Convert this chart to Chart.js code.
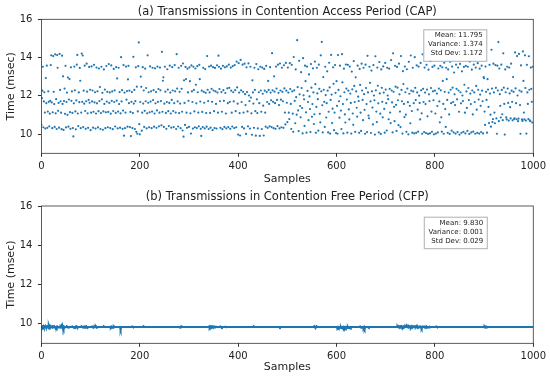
<!DOCTYPE html>
<html>
<head>
<meta charset="utf-8">
<script src="https://cdn.jsdelivr.net/npm/chart.js@4.4.0/dist/chart.umd.min.js"></script>
<style>
  body { margin: 0; background: #fff; }
  #wrap { position: relative; width: 550px; height: 379px; }
  canvas { position: absolute; left: 0; }
</style>
</head>
<body>
<div id="wrap">
  <canvas id="capChart" width="550" height="190" style="top:0px"></canvas>
  <canvas id="cfpChart" width="550" height="189" style="top:190px"></canvas>
</div>
<script>
// tick labels
var xTicks = [0, 200, 400, 600, 800, 1000];
var yTicks = [10, 12, 14, 16];

var capTitle = "(a) Transmissions in Contention Access Period (CAP)";
var cfpTitle = "(b) Transmissions in Contention Free Period (CFP)";
var capStats = ["Mean: 11.795", "Variance: 1.374", "Std Dev: 1.172"];
var cfpStats = ["Mean: 9.830", "Variance: 0.001", "Std Dev: 0.029"];

// (a) CAP transmission times, msec, samples 0..999
var cap = [
10.48,11.88,12.27,13.52,10.36,11.71,12.19,11.13,10.29,12.93,11.62,13.58,10.33,11.18,12.24,11.69,10.41,11.07,11.74,13.61,
14.12,11.66,10.31,11.14,14.08,12.21,11.57,10.38,14.17,11.09,11.83,10.27,14.13,13.47,11.22,11.63,10.34,14.19,12.31,11.72,
11.12,10.26,14.10,11.58,13.02,10.22,11.73,12.38,11.06,13.57,10.35,11.68,12.17,11.01,12.96,10.39,11.81,12.88,11.15,10.28,
13.49,11.74,12.23,11.11,10.32,9.88,11.61,13.53,12.29,11.19,10.25,11.76,13.63,14.14,11.08,10.42,12.18,11.67,13.46,12.79,
10.31,11.13,14.21,11.69,14.11,10.37,12.27,11.59,13.58,11.21,10.28,11.72,13.68,12.22,11.09,10.33,11.79,13.51,11.64,12.32,
10.21,11.12,13.54,11.71,12.28,10.34,11.17,13.62,11.66,12.19,10.29,11.08,13.48,11.61,12.24,10.35,11.20,13.43,11.73,12.46,
10.27,11.10,13.52,11.82,12.16,10.23,11.19,13.38,11.58,12.33,10.31,11.14,13.56,11.70,12.21,10.36,11.16,13.66,11.63,12.18,
10.32,11.07,13.59,11.74,12.23,10.26,11.21,13.41,11.68,12.29,10.40,11.11,13.50,11.75,12.91,10.30,11.18,13.47,11.57,12.20,
10.34,11.09,14.02,11.71,12.30,10.28,11.23,13.61,9.92,12.17,10.31,11.13,13.53,11.80,12.25,10.39,12.86,13.57,11.62,12.27,
10.37,11.16,9.90,11.69,12.20,10.32,11.10,14.04,11.60,12.31,10.27,11.73,13.49,10.12,12.48,10.02,11.19,13.55,14.79,10.52,
9.99,11.68,13.01,12.47,10.18,11.12,13.50,11.60,12.28,10.38,11.22,13.42,11.72,12.41,10.30,11.09,14.12,11.64,12.19,10.36,
11.14,13.54,11.70,12.24,10.31,11.18,13.47,11.78,12.30,10.39,11.08,13.44,11.61,12.20,10.33,11.24,13.53,11.69,12.36,10.41,
11.12,13.48,12.29,11.73,10.46,14.30,11.17,12.79,12.97,10.38,11.59,13.52,12.22,11.11,10.28,11.68,13.39,12.33,11.20,10.42,
11.63,13.58,12.17,11.08,10.34,11.79,13.50,12.28,11.21,10.37,11.62,13.61,12.24,11.13,10.27,14.18,12.38,11.71,10.40,13.47,
11.10,12.21,11.60,10.31,13.57,12.37,11.17,10.19,13.69,9.87,12.81,11.63,10.48,13.51,12.88,11.12,10.33,13.42,12.18,11.74,
10.38,13.49,12.77,11.09,10.03,13.59,12.23,11.68,10.29,13.52,12.31,11.19,10.36,13.43,12.58,11.61,10.32,13.55,12.19,11.13,
10.41,13.62,12.87,11.70,10.28,9.91,12.27,11.16,10.37,13.47,12.21,11.64,10.30,13.40,12.16,11.10,10.39,14.08,12.32,11.73,
10.27,13.53,12.18,11.11,10.34,13.58,12.37,11.69,10.21,13.50,12.28,11.20,10.32,13.46,12.23,11.58,10.29,13.60,12.17,11.12,
14.10,13.52,12.36,11.72,10.33,13.42,12.20,11.17,10.26,13.57,12.30,11.74,10.38,13.49,12.15,11.08,10.30,13.54,12.39,11.62,
10.37,13.63,12.42,11.69,10.28,13.48,12.27,11.12,10.40,13.55,12.19,11.71,10.32,13.61,12.30,11.20,10.36,13.79,12.44,11.59,
9.98,13.71,12.17,11.10,9.93,13.88,12.29,11.68,10.38,13.63,12.21,11.13,10.30,13.68,12.09,11.52,10.01,13.49,12.20,11.19,
10.41,13.70,12.02,11.73,10.29,13.52,11.91,11.09,9.97,12.81,12.18,11.60,10.33,13.47,12.31,11.20,9.92,13.66,11.82,11.10,
10.30,13.39,12.19,11.62,9.91,13.52,12.28,11.17,10.27,13.48,12.11,11.49,9.93,13.41,12.27,11.12,10.39,13.57,12.20,11.68,
10.33,12.78,12.31,11.58,10.41,13.50,12.17,11.77,10.37,14.23,12.29,11.69,10.31,13.02,12.22,11.62,10.28,13.53,12.38,11.79,
10.42,13.63,12.16,11.52,10.30,13.69,12.28,11.80,10.36,13.47,12.21,11.72,10.33,13.60,12.39,11.13,10.51,13.72,12.27,11.64,
10.63,13.48,12.17,11.12,10.79,13.71,12.36,11.58,10.27,13.62,12.23,11.07,10.12,14.03,12.29,11.74,10.57,13.38,11.93,11.02,
14.91,12.46,11.24,10.16,13.83,12.08,11.47,10.88,13.24,12.41,11.36,10.04,13.97,12.03,11.82,10.43,13.58,12.77,11.14,10.08,
13.53,12.26,11.68,10.73,13.12,11.97,11.31,10.11,13.66,12.43,10.91,11.57,13.44,12.18,10.53,11.04,13.79,12.61,10.07,11.42,
13.47,12.13,11.83,10.18,13.63,12.37,11.06,10.62,14.12,12.24,14.82,11.51,10.09,12.98,12.32,11.69,10.38,13.52,12.04,10.87,
11.62,13.28,12.27,10.09,11.17,13.73,12.44,10.03,11.79,14.14,12.07,10.58,11.33,13.49,12.63,10.21,11.13,13.61,12.16,10.06,
12.77,11.48,10.02,14.13,12.31,11.72,10.86,13.58,11.98,11.23,10.27,14.18,12.71,11.57,10.04,13.42,12.19,11.03,10.61,13.64,
12.38,11.81,10.08,13.62,12.27,11.29,10.77,13.53,12.12,11.63,10.03,13.27,12.34,11.08,10.49,13.82,12.52,11.68,10.12,12.97,
12.23,11.38,10.92,13.58,11.96,11.73,10.07,13.41,12.57,11.12,10.17,13.68,12.28,11.79,10.73,13.47,12.09,11.27,10.02,13.63,
12.41,11.57,10.11,14.09,12.18,10.97,10.83,13.52,12.68,11.71,10.06,13.32,12.24,11.39,10.51,13.61,12.02,11.77,9.98,14.07,
12.29,11.18,10.63,13.48,12.53,11.61,10.09,13.77,12.13,11.07,10.01,13.38,12.42,11.69,10.88,13.54,12.17,11.32,10.08,13.72,
12.33,11.62,10.19,13.47,12.02,11.83,10.78,13.42,12.37,11.13,10.58,13.87,12.28,11.66,10.09,14.22,12.21,11.43,10.68,13.57,
12.48,11.53,10.17,13.51,12.43,11.77,10.47,13.68,12.08,11.18,10.37,14.08,12.31,11.72,10.03,13.29,12.62,11.58,10.89,13.53,
12.19,11.02,10.12,13.39,12.38,11.67,9.99,13.78,12.11,11.48,10.57,14.11,12.27,11.21,10.08,13.47,12.23,11.62,10.04,14.02,
12.42,11.78,10.07,13.59,12.18,11.28,10.13,13.53,12.01,11.63,10.77,13.72,12.29,11.09,10.02,14.17,12.37,11.68,10.11,13.48,
12.17,11.57,10.06,13.62,12.33,10.93,10.01,13.37,12.08,11.73,10.04,13.82,12.41,11.18,10.12,13.51,12.24,11.77,9.99,13.58,
12.27,11.08,10.03,14.02,12.12,11.47,10.09,13.43,12.38,11.71,10.62,13.57,12.29,10.88,10.13,13.49,12.78,11.58,10.02,13.73,
12.21,11.31,10.38,13.47,12.87,11.79,10.07,13.38,12.17,11.03,10.01,13.78,12.32,11.62,10.18,13.53,12.43,11.68,10.09,13.22,
12.08,11.52,10.03,13.63,12.37,11.82,10.11,13.48,12.28,11.17,9.98,13.67,12.19,11.61,10.07,13.28,12.02,11.73,10.12,13.51,
12.58,11.12,10.04,13.57,12.23,11.37,10.17,13.52,12.41,11.78,10.01,13.79,12.12,11.57,10.09,13.37,12.28,11.03,10.13,13.63,
12.18,11.68,10.02,13.48,12.52,11.28,10.07,13.71,12.32,11.81,10.03,13.42,12.07,11.48,10.11,13.58,12.27,11.72,10.04,12.98,
12.92,11.18,10.48,13.53,12.21,11.79,10.08,12.87,12.33,11.42,10.58,13.62,12.12,11.02,10.39,14.41,12.38,10.63,10.79,13.68,
12.18,11.13,10.57,13.61,12.42,10.82,10.02,13.58,12.28,14.81,10.68,13.43,12.09,11.48,10.87,13.63,12.31,11.04,10.73,14.22,
12.43,11.58,9.98,13.38,12.19,10.88,10.77,13.52,12.38,11.63,10.71,13.48,12.13,11.41,10.82,13.68,12.27,11.69,10.72,12.98,
12.21,10.79,10.83,14.27,12.39,11.62,10.78,14.08,12.02,10.68,10.81,14.19,12.28,11.52,10.02,13.59,12.22,10.77,10.69,14.32,
12.78,11.13,10.77,14.12,12.41,10.71,10.03,13.62,12.18,11.58,10.79,14.07,12.32,10.72,10.68,13.48,12.37,11.69,10.61,13.52
];

// (b) CFP transmission times, msec, samples 0..999
var cfp = [
9.83,9.80,9.85,9.83,9.87,9.81,9.83,9.83,9.89,9.83,9.80,9.83,9.86,9.83,9.83,9.91,9.83,9.80,9.83,9.86,
9.83,9.83,9.80,9.85,9.83,9.83,9.87,9.83,9.81,9.83,9.83,9.79,9.85,9.83,9.83,9.83,9.83,9.83,9.81,9.86,
9.83,9.83,9.94,9.83,9.83,9.76,9.85,9.83,9.83,9.83,9.83,9.83,9.85,9.83,9.83,9.81,9.83,9.83,9.83,9.83,
9.83,9.83,9.83,9.85,9.83,9.83,9.83,9.83,9.81,9.83,9.83,9.87,9.83,9.80,9.83,9.83,9.83,9.83,9.83,9.83,
9.83,9.83,9.85,9.83,9.83,9.81,9.83,9.85,9.83,9.81,9.83,9.86,9.83,9.81,9.83,9.83,9.83,9.83,9.83,9.83,
9.83,9.83,9.83,9.85,9.83,9.81,9.83,9.83,9.85,9.83,9.83,9.86,9.80,9.83,9.83,9.83,9.83,9.83,9.83,9.83,
9.83,9.83,9.83,9.83,9.83,9.83,9.83,9.85,9.83,9.83,9.83,9.83,9.83,9.83,9.83,9.83,9.83,9.83,9.83,9.83,
9.83,9.81,9.85,9.83,9.83,9.83,9.80,9.86,9.83,9.83,9.83,9.83,9.83,9.83,9.83,9.83,9.83,9.83,9.83,9.83,
9.83,9.73,9.83,9.83,9.83,9.83,9.83,9.83,9.83,9.83,9.83,9.83,9.83,9.83,9.83,9.83,9.83,9.83,9.83,9.83,
9.83,9.83,9.83,9.83,9.83,9.85,9.83,9.83,9.83,9.83,9.83,9.83,9.83,9.83,9.83,9.83,9.83,9.83,9.83,9.83,
9.83,9.83,9.83,9.83,9.83,9.83,9.83,9.83,9.85,9.83,9.83,9.83,9.83,9.83,9.83,9.83,9.83,9.83,9.83,9.83,
9.83,9.83,9.83,9.83,9.83,9.83,9.83,9.83,9.83,9.83,9.83,9.83,9.83,9.83,9.83,9.83,9.83,9.83,9.83,9.83,
9.83,9.83,9.83,9.83,9.83,9.83,9.83,9.83,9.83,9.83,9.83,9.83,9.83,9.83,9.83,9.83,9.83,9.83,9.83,9.83,
9.83,9.83,9.83,9.83,9.83,9.83,9.83,9.83,9.83,9.83,9.83,9.83,9.83,9.83,9.83,9.83,9.83,9.83,9.83,9.83,
9.83,9.83,9.81,9.83,9.83,9.85,9.83,9.83,9.83,9.83,9.83,9.83,9.83,9.83,9.83,9.83,9.83,9.83,9.83,9.83,
9.83,9.83,9.83,9.83,9.83,9.83,9.83,9.83,9.83,9.83,9.83,9.83,9.83,9.83,9.83,9.83,9.83,9.83,9.83,9.83,
9.83,9.83,9.83,9.83,9.83,9.83,9.83,9.83,9.83,9.83,9.83,9.83,9.83,9.83,9.83,9.83,9.83,9.83,9.83,9.83,
9.83,9.85,9.81,9.86,9.83,9.80,9.83,9.86,9.83,9.81,9.83,9.85,9.83,9.83,9.83,9.84,9.83,9.83,9.83,9.83,
9.83,9.83,9.83,9.83,9.85,9.83,9.83,9.81,9.83,9.83,9.83,9.83,9.83,9.83,9.84,9.83,9.83,9.83,9.83,9.83,
9.83,9.83,9.83,9.83,9.83,9.83,9.83,9.83,9.83,9.83,9.83,9.83,9.83,9.83,9.83,9.83,9.83,9.83,9.83,9.83,
9.83,9.83,9.83,9.83,9.83,9.83,9.83,9.83,9.83,9.83,9.83,9.83,9.83,9.83,9.83,9.83,9.83,9.83,9.83,9.83,
9.83,9.83,9.83,9.83,9.83,9.83,9.83,9.83,9.83,9.83,9.83,9.83,9.85,9.83,9.83,9.83,9.83,9.83,9.83,9.83,
9.83,9.83,9.83,9.83,9.83,9.83,9.83,9.83,9.83,9.83,9.83,9.83,9.83,9.83,9.83,9.83,9.83,9.83,9.83,9.83,
9.83,9.83,9.83,9.83,9.83,9.83,9.83,9.83,9.83,9.83,9.83,9.83,9.83,9.83,9.83,9.83,9.83,9.83,9.83,9.83,
9.83,9.83,9.83,9.83,9.83,9.81,9.83,9.83,9.83,9.83,9.83,9.83,9.83,9.83,9.83,9.83,9.83,9.83,9.83,9.83,
9.83,9.83,9.83,9.83,9.83,9.83,9.83,9.83,9.83,9.83,9.83,9.83,9.83,9.83,9.83,9.83,9.83,9.83,9.83,9.83,
9.83,9.83,9.83,9.83,9.83,9.83,9.83,9.83,9.83,9.83,9.83,9.83,9.83,9.83,9.83,9.83,9.83,9.83,9.83,9.83,
9.83,9.83,9.83,9.83,9.83,9.83,9.83,9.83,9.83,9.83,9.83,9.83,9.83,9.83,9.83,9.87,9.83,9.80,9.83,9.83,
9.85,9.83,9.83,9.83,9.83,9.83,9.83,9.83,9.83,9.83,9.83,9.83,9.83,9.83,9.83,9.83,9.83,9.83,9.83,9.83,
9.83,9.83,9.83,9.83,9.83,9.83,9.83,9.83,9.83,9.83,9.83,9.83,9.83,9.83,9.83,9.83,9.83,9.83,9.83,9.83,
9.83,9.81,9.79,9.83,9.83,9.78,9.83,9.83,9.80,9.83,9.78,9.83,9.83,9.80,9.83,9.78,9.83,9.81,9.83,9.79,
9.83,9.83,9.80,9.83,9.78,9.83,9.83,9.83,9.83,9.80,9.83,9.83,9.83,9.83,9.83,9.83,9.83,9.83,9.83,9.83,
9.83,9.83,9.83,9.83,9.83,9.83,9.83,9.83,9.85,9.83,9.81,9.83,9.83,9.83,9.83,9.78,9.83,9.76,9.83,9.83,
9.83,9.83,9.83,9.83,9.83,9.80,9.83,9.83,9.83,9.83,9.83,9.83,9.83,9.83,9.83,9.83,9.83,9.83,9.83,9.83,
9.83,9.83,9.83,9.83,9.83,9.83,9.83,9.83,9.83,9.83,9.83,9.83,9.83,9.83,9.83,9.83,9.83,9.83,9.83,9.83,
9.83,9.83,9.83,9.83,9.83,9.83,9.83,9.83,9.83,9.83,9.83,9.83,9.83,9.83,9.83,9.83,9.83,9.83,9.83,9.83,
9.83,9.83,9.83,9.83,9.87,9.83,9.88,9.83,9.85,9.83,9.86,9.83,9.83,9.85,9.83,9.81,9.85,9.83,9.83,9.86,
9.83,9.85,9.83,9.87,9.83,9.84,9.81,9.86,9.83,9.85,9.83,9.81,9.86,9.83,9.83,9.85,9.83,9.83,9.86,9.83,
9.84,9.83,9.86,9.83,9.83,9.85,9.81,9.83,9.84,9.83,9.85,9.83,9.83,9.77,9.83,9.84,9.83,9.83,9.85,9.83,
9.83,9.81,9.83,9.85,9.83,9.83,9.81,9.83,9.83,9.84,9.83,9.83,9.83,9.83,9.83,9.83,9.83,9.83,9.83,9.83,
9.83,9.83,9.83,9.85,9.83,9.83,9.83,9.83,9.83,9.83,9.83,9.83,9.83,9.83,9.83,9.83,9.83,9.83,9.83,9.83,
9.83,9.83,9.83,9.83,9.83,9.83,9.83,9.83,9.83,9.83,9.83,9.83,9.83,9.83,9.83,9.83,9.83,9.83,9.83,9.83,
9.83,9.83,9.83,9.83,9.83,9.83,9.83,9.83,9.83,9.83,9.83,9.83,9.83,9.83,9.83,9.83,9.83,9.83,9.83,9.83,
9.83,9.83,9.83,9.83,9.83,9.83,9.83,9.83,9.83,9.83,9.83,9.83,9.83,9.83,9.83,9.83,9.83,9.83,9.83,9.83,
9.83,9.83,9.83,9.83,9.83,9.83,9.83,9.83,9.83,9.83,9.83,9.83,9.83,9.83,9.83,9.83,9.83,9.83,9.83,9.83,
9.83,9.85,9.81,9.83,9.85,9.83,9.83,9.83,9.83,9.83,9.83,9.83,9.83,9.83,9.83,9.83,9.83,9.83,9.83,9.83,
9.83,9.83,9.83,9.83,9.83,9.83,9.83,9.83,9.83,9.83,9.83,9.83,9.83,9.83,9.83,9.83,9.83,9.83,9.83,9.83,
9.83,9.83,9.83,9.83,9.83,9.83,9.83,9.83,9.83,9.83,9.83,9.83,9.83,9.83,9.83,9.83,9.83,9.83,9.83,9.83,
9.83,9.83,9.83,9.83,9.83,9.83,9.83,9.83,9.83,9.83,9.83,9.83,9.83,9.83,9.83,9.83,9.83,9.83,9.83,9.83,
9.83,9.83,9.83,9.83,9.83,9.83,9.83,9.83,9.83,9.83,9.83,9.83,9.83,9.83,9.83,9.83,9.83,9.83,9.83,9.83
];

var blue = "#1f77b4";
var fam = "'DejaVu Sans', sans-serif";
var ink = "#222";

// matplotlib-like frame on all four sides plus the stats text box
var framePlugin = {
    id: 'frame',
    afterDraw: function (chart, args, opts) {
        var a = chart.chartArea, ctx = chart.ctx;
        ctx.save();
        ctx.strokeStyle = '#333';
        ctx.lineWidth = 0.8;
        ctx.strokeRect(a.left, a.top, a.right - a.left, a.bottom - a.top);

        var w = 63, h = 31.5;
        var bx = a.right - opts.right - w, by = a.top + opts.top;
        ctx.fillStyle = '#fff';
        ctx.fillRect(bx, by, w, h);
        ctx.strokeStyle = '#b0b0b0';
        ctx.lineWidth = 1;
        ctx.strokeRect(bx + 0.5, by + 0.5, w, h);
        ctx.fillStyle = ink;
        ctx.font = "7px " + fam;
        ctx.textAlign = 'right';
        ctx.textBaseline = 'middle';
        for (var i = 0; i < opts.lines.length; i++) {
            ctx.fillText(opts.lines[i], bx + w - 3.5, by + 6 + i * 9.1);
        }
        ctx.restore();
    }
};

function makeScales(xHeight, xTitleBottom) {
    return {
        x: {
            type: 'linear', min: 0, max: 1000,
            afterBuildTicks: function (s) { s.ticks = xTicks.map(function (v) { return { value: v }; }); },
            afterFit: function (s) { s.height = xHeight; },
            grid: { drawOnChartArea: false, drawTicks: true, tickLength: 3.5, color: '#333' },
            border: { display: false },
            ticks: { font: { family: fam, size: 10 }, color: ink, padding: 4, maxRotation: 0,
                     callback: function (v) { return String(v); } },
            title: { display: true, text: 'Samples', color: ink, font: { family: fam, size: 11 },
                     padding: { top: 0, bottom: xTitleBottom } }
        },
        y: {
            min: 9, max: 16,
            afterBuildTicks: function (s) { s.ticks = yTicks.map(function (v) { return { value: v }; }); },
            afterFit: function (s) { s.width = 41.4; },
            grid: { drawOnChartArea: false, drawTicks: true, tickLength: 3.5, color: '#333' },
            border: { display: false },
            ticks: { font: { family: fam, size: 10 }, color: ink, padding: 5.5,
                     callback: function (v) { return String(v); } },
            title: { display: true, text: 'Time (msec)', color: ink, font: { family: fam, size: 11 },
                     padding: { top: 4.4, bottom: 0 } }
        }
    };
}

function pts(arr) {
    return arr.map(function (v, i) { return { x: i, y: v }; });
}

new Chart(document.getElementById('capChart'), {
    type: 'scatter',
    data: {
        datasets: [{
            data: pts(cap),
            pointRadius: 1.1,
            pointBackgroundColor: blue,
            pointBorderWidth: 0
        }]
    },
    options: {
        responsive: false, animation: false, devicePixelRatio: 1,
        layout: { padding: { left: 0, right: 16, top: 0, bottom: 0 } },
        scales: makeScales(36.7, 3.9),
        plugins: {
            legend: { display: false }, tooltip: { enabled: false },
            title: { display: true, fullSize: false, text: capTitle, color: ink,
                     font: { family: fam, size: 11.5, weight: 'normal' },
                     padding: { top: 5.5, bottom: 0 } },
            frame: { lines: capStats, right: 47, top: 10 }
        }
    },
    plugins: [framePlugin]
});

new Chart(document.getElementById('cfpChart'), {
    type: 'scatter',
    data: {
        datasets: [{
            data: pts(cfp),
            showLine: true,
            borderColor: blue,
            borderWidth: 2,
            pointRadius: 1.1,
            pointBackgroundColor: blue,
            pointBorderWidth: 0
        }]
    },
    options: {
        responsive: false, animation: false, devicePixelRatio: 1,
        layout: { padding: { left: 0, right: 16, top: 0, bottom: 0 } },
        scales: makeScales(35.7, 5.5),
        plugins: {
            legend: { display: false }, tooltip: { enabled: false },
            title: { display: true, fullSize: false, text: cfpTitle, color: ink,
                     font: { family: fam, size: 11.5, weight: 'normal' },
                     padding: { top: 0.6, bottom: 1.6 } },
            frame: { lines: cfpStats, right: 46.5, top: 10.7 }
        }
    },
    plugins: [framePlugin]
});
</script>
</body>
</html>
